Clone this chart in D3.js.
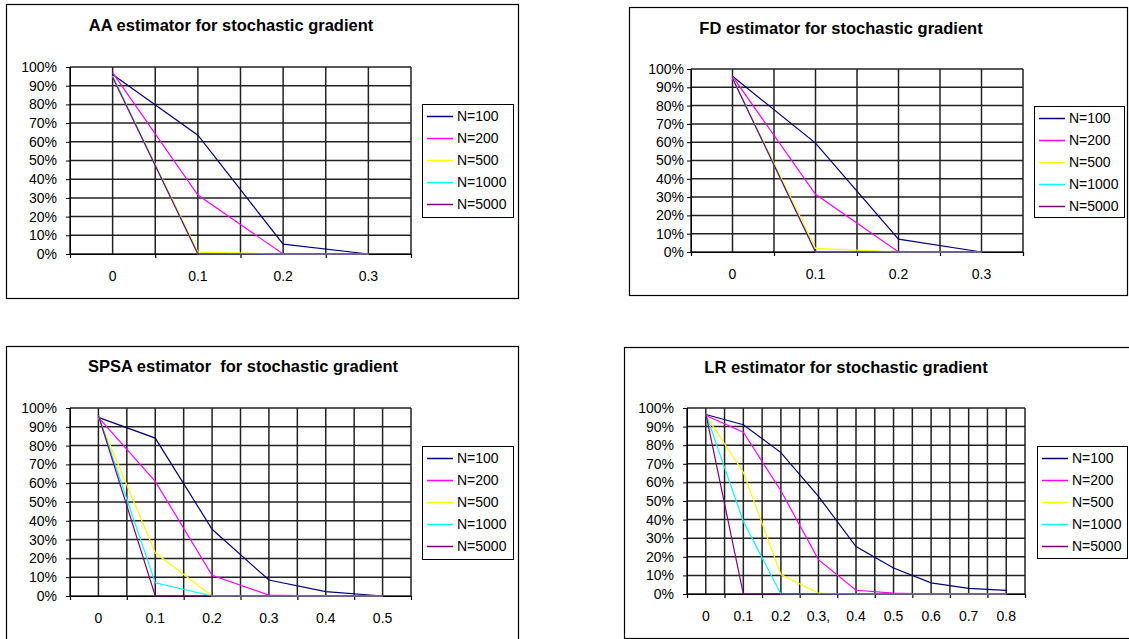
<!DOCTYPE html>
<html>
<head>
<meta charset="utf-8">
<script src="https://cdn.jsdelivr.net/npm/d3@7"></script>
<style>
  body { margin: 0; background: #fff; }
  svg { display: block; font-family: "Liberation Sans", Arial, sans-serif; }
</style>
</head>
<body>
<div id="chart"></div>
<script>
// series shared by all four panels
const seriesNames = ["N=100", "N=200", "N=500", "N=1000", "N=5000"];
const seriesColors = ["#000080", "#ff00ff", "#ffff00", "#00ffff", "#800080"];
const yTicks = [0, 10, 20, 30, 40, 50, 60, 70, 80, 90, 100];

// AA estimator (percent), one row per series
const aaCategories = ["0", "0.1", "0.2", "0.3"];
const aaValues = [
  [96, 63.5, 5.3, 0],
  [97, 31.5, 0, 0],
  [95, 1, 0, 0],
  [95, 0, 0, 0],
  [94.5, 0, 0, 0]
];

// FD estimator
const fdCategories = ["0", "0.1", "0.2", "0.3"];
const fdValues = [
  [96, 59.5, 7, 0],
  [96, 31.5, 0, 0],
  [95, 2, 0, 0],
  [95, 0, 0, 0],
  [95, 0, 0, 0]
];

// SPSA estimator
const spsaCategories = ["0", "0.1", "0.2", "0.3", "0.4", "0.5"];
const spsaValues = [
  [95, 84, 35.5, 8.5, 2.3, 0],
  [95, 61, 11, 0.5, 0, 0],
  [95, 23, 0, 0, 0, 0],
  [96, 7, 0, 0, 0, 0],
  [96, 0, 0, 0, 0, 0]
];

// LR estimator
const lrCategories = ["0", "0.1", "0.2", "0.3,", "0.4", "0.5", "0.6", "0.7", "0.8"];
const lrValues = [
  [96.5, 91, 76, 52.5, 25.5, 14, 6, 3, 2],
  [96, 87, 55.5, 18.5, 2, 0.5, 0, 0, 0],
  [96, 65.5, 10.5, 0.5, 0, 0, 0, 0, 0],
  [97, 39, 0, 0, 0, 0, 0, 0, 0],
  [97, 0, 0, 0, 0, 0, 0, 0, 0]
];

const panels = [
  { title: "AA estimator for stochastic gradient", cats: aaCategories, values: aaValues,
    box: [6, 4, 518, 298], plot: [70, 67, 411, 254], titleX: 231, titleY: 31,
    legend: [422, 104, 91, 113], yGap: 9 },
  { title: "FD estimator for stochastic gradient", cats: fdCategories, values: fdValues,
    box: [629, 7, 1127, 295], plot: [691, 69, 1023, 252], titleX: 841, titleY: 34,
    legend: [1034, 106, 90, 111], yGap: 3 },
  { title: "SPSA estimator  for stochastic gradient", cats: spsaCategories, values: spsaValues,
    box: [6, 346, 518, 680], plot: [70, 408, 411, 596], titleX: 243, titleY: 372,
    legend: [422, 446, 91, 113], yGap: 9 },
  { title: "LR estimator for stochastic gradient", cats: lrCategories, values: lrValues,
    box: [624, 347, 1140, 638], plot: [687, 408, 1025, 594], titleX: 846, titleY: 373,
    legend: [1037, 446, 90, 112], yGap: 9 }
];

const svg = d3.select("#chart").append("svg")
  .attr("width", 1129)
  .attr("height", 639);

const drawPanel = (p) => {
  const [bx0, by0, bx1, by1] = p.box;
  const [px0, py0, px1, py1] = p.plot;
  const w = px1 - px0;
  const h = py1 - py0;

  svg.append("rect")
    .attr("x", bx0 + 0.5).attr("y", by0 + 0.5)
    .attr("width", bx1 - bx0).attr("height", by1 - by0)
    .attr("fill", "#fff").attr("stroke", "#000").attr("stroke-width", 1.2);

  svg.append("text")
    .attr("x", p.titleX).attr("y", p.titleY)
    .attr("text-anchor", "middle")
    .style("white-space", "pre")
    .attr("font-size", "16.5px").attr("font-weight", "bold")
    .text(p.title);

  const xScale = d3.scaleBand().domain(p.cats).range([0, w]).paddingInner(0).paddingOuter(0);
  const yScale = d3.scaleLinear().domain([0, 100]).range([h, 0]);
  const bw = xScale.bandwidth();
  const bounds = d3.scaleLinear().domain([0, p.cats.length]).range([0, w]);

  const g = svg.append("g").attr("transform", `translate(${px0}, ${py0})`);

  // grid: horizontal at every 10%, vertical at band edges and centres
  const vLines = [];
  p.cats.forEach((c) => { vLines.push(xScale(c)); vLines.push(xScale(c) + bw / 2); });
  vLines.push(w);

  const grid = g.append("g").attr("stroke", "#222").attr("stroke-width", 1.5);
  grid.selectAll(".h").data(yTicks).enter().append("line")
    .attr("x1", 0).attr("x2", w)
    .attr("y1", (d) => yScale(d)).attr("y2", (d) => yScale(d));
  grid.selectAll(".v").data(vLines).enter().append("line")
    .attr("x1", (d) => d).attr("x2", (d) => d)
    .attr("y1", 0).attr("y2", h);

  const yAxis = d3.axisLeft(yScale).tickValues(yTicks).tickSize(4).tickPadding(p.yGap)
    .tickFormat((d) => d + "%");
  g.append("g").call(yAxis)
    .call((a) => a.selectAll("text").attr("font-size", "14px").attr("fill", "#000"))
    .call((a) => a.selectAll("line, path").attr("stroke", "#000"));

  // category labels at band centres, ticks at band edges
  const xAxis = d3.axisBottom(xScale).tickSize(0).tickPadding(17);
  g.append("g").attr("transform", `translate(0, ${h})`).call(xAxis)
    .call((a) => a.select(".domain").remove())
    .call((a) => a.selectAll("text").attr("font-size", "14px").attr("fill", "#000"));

  const xEdges = d3.axisBottom(bounds).tickValues(d3.range(p.cats.length + 1))
    .tickSize(4).tickFormat("").tickSizeOuter(0);
  g.append("g").attr("transform", `translate(0, ${h})`).call(xEdges)
    .call((a) => a.selectAll("line, path").attr("stroke", "#000").attr("stroke-width", 1.2));

  const line = d3.line()
    .x((d, i) => xScale(p.cats[i]) + bw / 2)
    .y((d) => yScale(d));

  g.selectAll(".series").data(p.values).enter().append("path")
    .attr("fill", "none")
    .attr("stroke", (d, i) => seriesColors[i])
    .attr("stroke-width", 1.2)
    .attr("d", line);

  // legend
  const [lx, ly, lw, lh] = p.legend;
  const leg = svg.append("g").attr("transform", `translate(${lx}, ${ly})`);
  leg.append("rect").attr("x", 0.5).attr("y", 0.5).attr("width", lw).attr("height", lh)
    .attr("fill", "#fff").attr("stroke", "#000").attr("stroke-width", 1);
  const rows = leg.selectAll(".row").data(seriesNames).enter().append("g")
    .attr("transform", (d, i) => `translate(0, ${12 + i * 22})`);
  rows.append("line").attr("x1", 5).attr("x2", 31).attr("y1", 0.5).attr("y2", 0.5)
    .attr("stroke", (d, i) => seriesColors[i]).attr("stroke-width", 1.5);
  rows.append("text").attr("x", 35).attr("y", 5)
    .attr("font-size", "14px").text((d) => d);
};

panels.forEach(drawPanel);
</script>
</body>
</html>
